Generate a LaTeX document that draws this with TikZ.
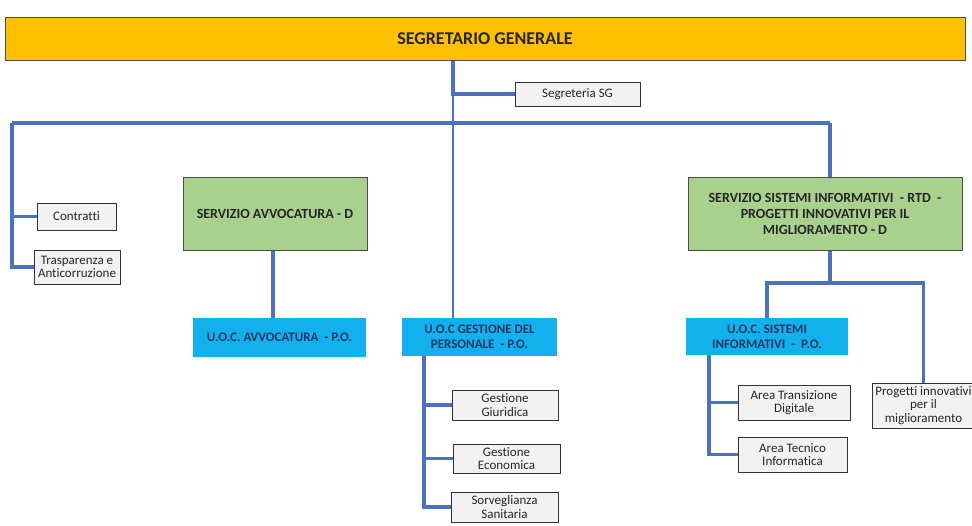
\documentclass[tikz,border=0pt]{standalone}
\usepackage{fontspec}
\setmainfont{Carlito}[Ligatures=NoCommon]
\usepackage{tikz}

\definecolor{gold}{HTML}{FFC000}
\definecolor{leafgreen}{HTML}{A9D18E}
\definecolor{skyblue}{HTML}{12B0EC}
\definecolor{boxgrey}{HTML}{F2F2F2}
\definecolor{linkblue}{HTML}{4A72BE}
\definecolor{navy}{HTML}{1F3864}

\begin{document}
\begin{tikzpicture}[x=1pt,y=-1pt]
  \def\lw{3.5pt}
  \def\lt{2pt}

\tikzstyle{leader}=[rectangle,fill=gold,draw=black!70,line width=1pt,inner sep=0pt,font=\fontsize{18}{20}\selectfont\bfseries,text=black!85]
\tikzstyle{office}=[rectangle,fill=boxgrey,draw=black!80,line width=0.9pt,inner sep=0pt,align=center,font=\fontsize{13}{13.5}\selectfont,text=black!85]
\tikzstyle{service}=[rectangle,fill=leafgreen,draw=black!70,line width=1pt,inner sep=0pt,align=center,font=\fontsize{14}{16}\selectfont\bfseries,text=black!85]
\tikzstyle{unit}=[rectangle,fill=skyblue,inner sep=0pt,align=center,font=\fontsize{13}{15}\selectfont\bfseries,text=navy]
\tikzstyle{link}=[draw=linkblue,line width=\lw]
\useasboundingbox (0,0) rectangle (972,525);

% named bends of the connectors
\coordinate (stem) at (453,123);
\coordinate (busL) at (12,123);
\coordinate (busR) at (830,123);
\coordinate (gp) at (424,0);
\coordinate (si) at (830,283);
\coordinate (sit) at (709,0);

\node[leader] (SG) at (485,38.5) [minimum width=960, minimum height=43] {SEGRETARIO GENERALE};
\node[office] (SegSG) at (577.5,94) [minimum width=125, minimum height=24] {Segreteria SG};
\node[office] (Contr) at (76.5,216.5) [minimum width=79, minimum height=27] {Contratti};
\node[office] (Trasp) at (77,267) [minimum width=86, minimum height=34] {Trasparenza e\\Anticorruzione};
\node[service] (SA) at (275,213.5) [minimum width=184, minimum height=73] {SERVIZIO AVVOCATURA - D};
\node[unit] (UOCA) at (279.5,337.5) [minimum width=173, minimum height=39] {U.O.C. AVVOCATURA\ \ - P.O.};
\node[unit] (UOCGP) at (479.5,337) [minimum width=155, minimum height=38] {U.O.C GESTIONE DEL\\PERSONALE\ \ - P.O.};
\node[office] (GG) at (505,405) [minimum width=106, minimum height=30] {Gestione\\Giuridica};
\node[office] (GE) at (506.5,458.5) [minimum width=107, minimum height=29] {Gestione\\Economica};
\node[office] (SSan) at (504.5,507) [minimum width=107, minimum height=30] {Sorveglianza\\Sanitaria};
\node[service] (SSI) at (825,213.5) [minimum width=274, minimum height=73] {SERVIZIO SISTEMI INFORMATIVI\ \ - RTD\ \ -\\PROGETTI INNOVATIVI PER IL\\MIGLIORAMENTO - D};
\node[unit] (UOCSI) at (767,336.5) [minimum width=162, minimum height=37] {U.O.C. SISTEMI\\INFORMATIVI\ \ -\ \ P.O.};
\node[office] (ATD) at (794,402.5) [minimum width=112, minimum height=35] {Area Transizione\\Digitale};
\node[office] (ATI) at (792.5,454.5) [minimum width=109, minimum height=35] {Area Tecnico\\Informatica};
\node[office] (Prog) at (923.5,405.5) [minimum width=103, minimum height=45] {Progetti innovativi\\per il\\miglioramento};

\draw[link,line width=\lt] (SG.south -| stem) -- (stem) -- (UOCGP.north -| stem);
\draw[link] (SG.south -| stem) |- (SegSG.west);
\draw[link] (busL) -- (busR);
\draw[link] (busL) |- (Contr.west);
\draw[link] (busL) |- (Trasp.west);
\draw[link] (SA.north -| 273,0) -- (SA.north -| 273,0 |- busL);
\draw[link] (busR) -- (SSI.north -| busR);
\draw[link] (SA.south -| 273,0) -- (UOCA.north -| 273,0);
\draw[link] (UOCGP.south -| gp) |- (GG.west);
\draw[link] (UOCGP.south -| gp) |- (GE.west);
\draw[link] (UOCGP.south -| gp) |- (SSan.west);
\draw[link] (SSI.south -| si) -- (si);
\draw[link] (si) -| (UOCSI.north);
\draw[link] (si) -| (Prog.north);
\draw[link] (UOCSI.south -| sit) |- (ATD.west);
\draw[link] (UOCSI.south -| sit) |- (ATI.west);
\end{tikzpicture}
\end{document}
